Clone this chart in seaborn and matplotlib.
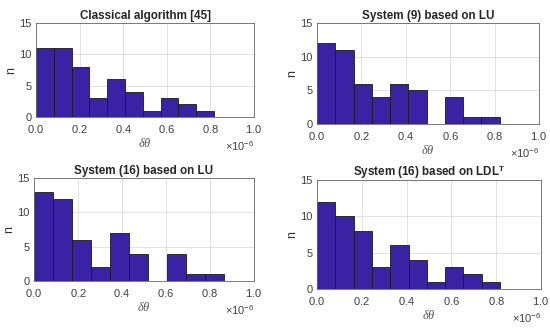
import numpy as np
import pandas as pd
import seaborn as sns
import matplotlib
matplotlib.use("Agg")
import matplotlib.pyplot as plt
from matplotlib.ticker import ScalarFormatter

sns.set_theme(style="whitegrid")
plt.rcParams['font.family'] = ['Liberation Sans', 'DejaVu Sans']
plt.rcParams['mathtext.fontset'] = 'custom'
plt.rcParams['mathtext.rm'] = 'Liberation Sans'
plt.rcParams['mathtext.bf'] = 'Liberation Sans:bold'
plt.rcParams['mathtext.it'] = 'Liberation Serif:italic'

titles = ["Classical algorithm [45]", "System (9) based on LU",
          "System (16) based on LU", r"System (16) based on LDL$^{\mathbf{T}}$"]
counts_classical = [11, 11, 8, 3, 6, 4, 1, 3, 2, 1]
counts_sys9_lu = [12, 11, 6, 4, 6, 5, 0, 4, 1, 1]
counts_sys16_lu = [13, 12, 6, 2, 7, 4, 0, 4, 1, 1]
counts_sys16_ldl = [12, 10, 8, 3, 6, 4, 1, 3, 2, 1]
bin_widths = [0.0817e-6, 0.0823e-6, 0.0862e-6, 0.0817e-6]
x_ticks = [0, 0.2e-6, 0.4e-6, 0.6e-6, 0.8e-6, 1.0e-6]
y_ticks = [0, 5, 10, 15]

all_counts = [counts_classical, counts_sys9_lu, counts_sys16_lu, counts_sys16_ldl]

W, H = 550, 329
fig = plt.figure(figsize=(5.5, 3.29), dpi=100)
# pixel boxes: left, top, right, bottom
boxes = [(36, 23, 254, 117), (317, 23, 539, 124), (34, 178, 254, 281), (317, 180, 541, 289)]

bar_color = "#3A22A4"
for i, (counts, bw, title, box) in enumerate(zip(all_counts, bin_widths, titles, boxes)):
    l, t, r, b = box
    ax = fig.add_axes([l / W, 1 - b / H, (r - l) / W, (b - t) / H])
    n = len(counts)
    centers = (np.arange(n) + 0.5) * bw
    df = pd.DataFrame({"x": centers, "w": counts})
    sns.histplot(data=df, x="x", weights="w", binwidth=bw, binrange=(0, n * bw), ax=ax,
                 color=bar_color, edgecolor="#1a1a1a", linewidth=0.6, alpha=1)
    ax.set_xlim(0, 1e-6)
    ax.set_ylim(0, 15)
    ax.set_xticks(x_ticks)
    ax.set_yticks(y_ticks)
    fmt = ScalarFormatter(useMathText=True)
    fmt.set_powerlimits((-3, 3))
    ax.xaxis.set_major_formatter(fmt)
    ax.xaxis.get_offset_text().set_fontsize(8)
    ax.xaxis.get_offset_text().set_color("#404040")
    ax.tick_params(axis="both", labelsize=8, labelcolor="#404040", color="#666666",
                   direction="in", length=2.5, width=0.6, pad=3)
    ax.tick_params(axis="x", pad=4.5)
    ax.set_title(title, fontsize=8.4, fontweight="bold", pad=3)
    ax.set_xlabel(r"$\delta\theta$", fontsize=9, color="#555555", labelpad=1)
    ax.set_ylabel("n", fontsize=9, color="#333333", labelpad=2)
    ax.grid(True, color="#dddddd", linewidth=0.6)
    ax.set_axisbelow(True)
    for s in ax.spines.values():
        s.set_visible(True)
        s.set_color("#666666")
        s.set_linewidth(0.6)

fig.savefig("out.png", dpi=100)
